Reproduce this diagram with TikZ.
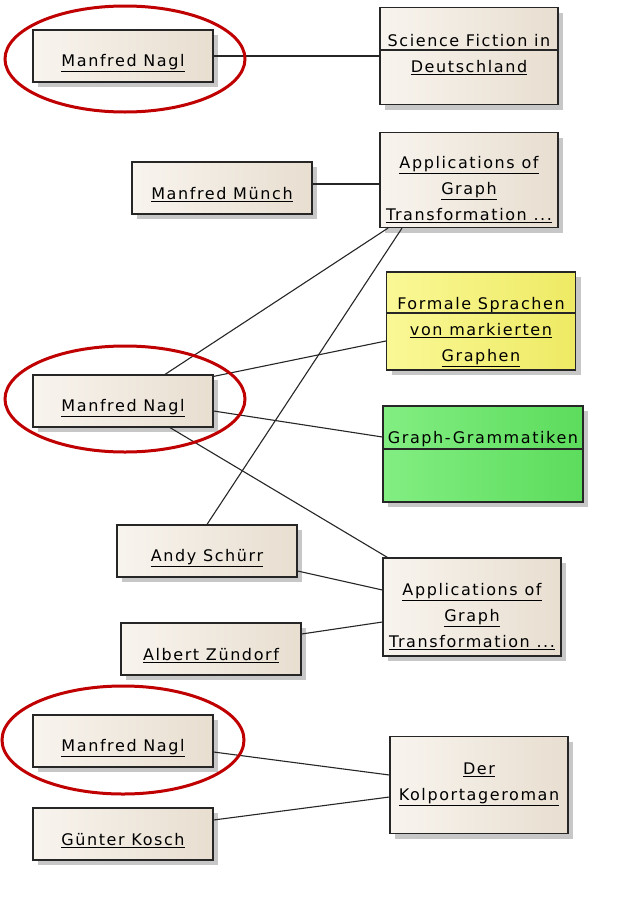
\documentclass[tikz,border=0pt]{standalone}
\usepackage{fontspec}
\setmainfont{DejaVu Sans}[LetterSpace=10]
\usetikzlibrary{shadows}

\definecolor{paper}{RGB}{248,244,238}
\definecolor{paperdark}{RGB}{232,222,208}
\definecolor{lemon}{RGB}{250,248,150}
\definecolor{lemondark}{RGB}{238,234,100}
\definecolor{mint}{RGB}{130,238,130}
\definecolor{mintdark}{RGB}{92,220,92}
\definecolor{ringred}{RGB}{192,0,0}

\newcommand{\ul}[1]{\underline{#1}}

\begin{document}
\begin{tikzpicture}[x=1pt,y=-1pt,
    obj/.style={draw=black!85, line width=1.2pt, left color=paper, right color=paperdark,
      minimum width=180pt, minimum height=52pt, inner sep=0pt, align=center,
      font=\fontsize{16}{26}\selectfont, text height=26pt,
      drop shadow={shadow xshift=5pt, shadow yshift=-5pt, fill=black, opacity=.22}},
    doc/.style={obj, minimum width=178pt, minimum height=97pt, text height=83.5pt},
    ring/.style={draw=ringred, line width=3pt},
    link/.style={draw=black!85, line width=1.1pt}]
    \useasboundingbox[fill=white] (0,0) rectangle (625,905);

    % authors
    \node[obj] (nagl1) at (123,56) {\ul{Manfred Nagl}};
    \node[obj] (muench) at (222,188) {\ul{Manfred Münch}};
    \node[obj] (nagl2) at (123,401) {\ul{Manfred Nagl}};
    \node[obj] (andy) at (207,551) {\ul{Andy Schürr}};
    \node[obj] (albert) at (211,649) {\ul{Albert Zündorf}};
    \node[obj] (nagl3) at (123,741) {\ul{Manfred Nagl}};
    \node[obj] (kosch) at (123,834) {\ul{Günter Kosch}};

    % publications
    \node[doc, text height=36pt] (sf) at (469,56) {Science Fiction in\\ \ul{Deutschland}};
    \node[doc, minimum height=95pt] (app1) at (469,180) {\ul{Applications of}\\ \ul{Graph}\\ \ul{Transformation ...}};
    \node[doc, minimum width=189pt, minimum height=98pt, text height=85.5pt, left color=lemon, right color=lemondark] (formale) at (481,321) {Formale Sprachen\\ \ul{von markierten}\\ \ul{Graphen}};
    \node[doc, minimum width=200pt, minimum height=96pt, text height=12pt, text depth=34pt, left color=mint, right color=mintdark] (gg) at (483,454) {Graph-Grammatiken};
    \node[doc, minimum height=98pt] (app2) at (472,607) {\ul{Applications of}\\ \ul{Graph}\\ \ul{Transformation ...}};
    \node[doc, text height=36pt] (kolp) at (479,785) {\ul{Der}\\ \ul{Kolportageroman}};

    % compartment lines
    \draw[link] ([yshift=6pt]sf.west) -- ([yshift=6pt]sf.east);
    \draw[link] ([yshift=8pt]formale.west) -- ([yshift=8pt]formale.east);
    \draw[link] ([yshift=5pt]gg.west) -- ([yshift=5pt]gg.east);

    % links
    \draw[link] (nagl1) -- (sf);
    \draw[link] ([yshift=4pt]muench.east) -- ([yshift=-4pt]app1.west);
    \draw[link] ([xshift=42pt]nagl2.north) -- ([xshift=-81pt]app1.south);
    \draw[link] ([yshift=-2pt]nagl2.north east) -- ([yshift=-20pt]formale.west);
    \draw[link] ([yshift=-10pt]nagl2.east) -- ([yshift=17pt]gg.west);
    \draw[link] ([xshift=47pt]nagl2.south) -- ([xshift=5pt]app2.north west);
    \draw[link] (andy.north) -- ([xshift=-67pt]app1.south);
    \draw[link] ([yshift=-20pt]andy.east) -- ([yshift=17pt]app2.west);
    \draw[link] ([yshift=15pt]albert.east) -- ([yshift=-15pt]app2.west);
    \draw[link] ([yshift=-11pt]nagl3.east) -- ([yshift=10pt]kolp.west);
    \draw[link] ([yshift=14pt]kosch.east) -- ([yshift=-12pt]kolp.west);

    % highlight rings
    \draw[ring] ([xshift=2pt,yshift=-3pt]nagl1.center) ellipse [x radius=120, y radius=53];
    \draw[ring] ([xshift=2pt,yshift=2pt]nagl2.center) ellipse [x radius=120, y radius=53];
    \draw[ring] ([xshift=0pt,yshift=1pt]nagl3.center) ellipse [x radius=121, y radius=54];
\end{tikzpicture}
\end{document}
